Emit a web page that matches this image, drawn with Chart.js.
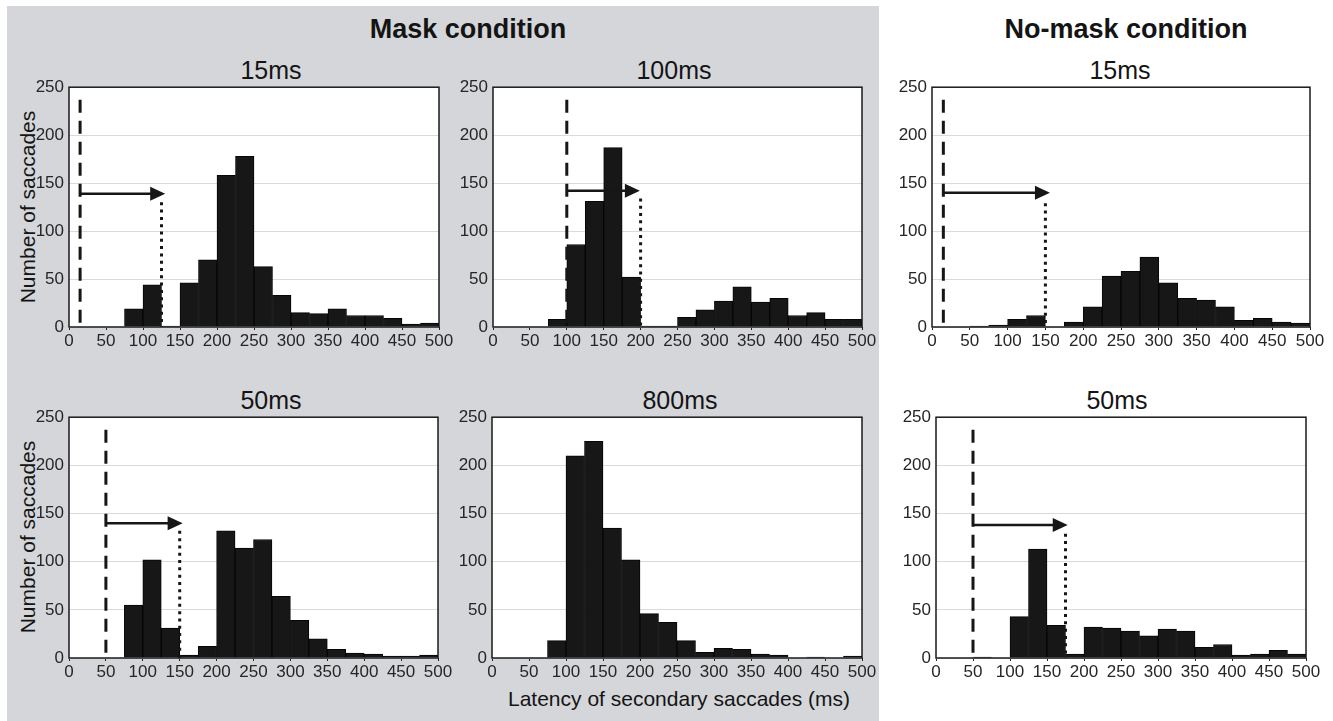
<!DOCTYPE html>
<html>
<head>
<meta charset="utf-8">
<script src="https://cdn.jsdelivr.net/npm/chart.js@4.4.1/dist/chart.umd.min.js"></script>
<style>
  body { margin: 0; background: #fff; }
  #page { position: relative; width: 1333px; height: 721px; overflow: hidden; font-family: 'Liberation Sans', Arial, sans-serif; }
  #maskBg { position: absolute; left: 7px; top: 6px; width: 872px; height: 715px; background: #d5d6d9; }
  canvas { position: absolute; }
  .txt { position: absolute; white-space: nowrap; line-height: 1; color: #141414; }
</style>
</head>
<body>
<div id="page">
  <div id="maskBg"></div>
</div>
<script>
// histogram bins (ms), 25 ms wide
const binStarts = [0, 25, 50, 75, 100, 125, 150, 175, 200, 225, 250, 275, 300, 325, 350, 375, 400, 425, 450, 475];
const binWidth = 25;
const xTicks = [0, 50, 100, 150, 200, 250, 300, 350, 400, 450, 500];
const yTicks = [0, 50, 100, 150, 200, 250];

// number of saccades per bin
const mask15   = [0, 0, 0, 19, 44, 1, 46, 70, 158, 178, 63, 33, 15, 14, 19, 12, 12, 9, 3, 4];
const mask100  = [0, 0, 0, 8, 86, 131, 187, 52, 1, 1, 10, 18, 27, 42, 26, 30, 12, 15, 8, 8];
const mask50   = [0, 0, 0, 55, 102, 31, 3, 12, 132, 114, 123, 64, 39, 20, 9, 5, 4, 2, 2, 3];
const mask800  = [0, 0, 0, 18, 210, 225, 135, 102, 46, 37, 18, 6, 10, 9, 4, 3, 0, 1, 0, 2];
const noMask15 = [0, 0, 1, 2, 8, 12, 0, 5, 21, 53, 58, 73, 46, 30, 28, 21, 7, 9, 5, 4];
const noMask50 = [0, 0, 1, 0, 43, 113, 34, 4, 32, 31, 28, 23, 30, 28, 11, 14, 3, 4, 8, 4];

// cue markers: mask onset (dashed), arrow, end of window (dotted)
const cueOnset    = { m15: 15, m100: 100, m50: 50, n15: 15, n50: 50 };
const cueArrowTip = { m15: 130, m100: 199, m50: 154, n15: 156, n50: 178 };
const cueArrowY   = { m15: 139, m100: 142, m50: 140, n15: 140, n50: 138 };
const cueDotX     = { m15: 125, m100: 200, m50: 150, n15: 150, n50: 175 };
const cueDotTop   = { m15: 130, m100: 134, m50: 132, n15: 129, n50: 129 };
const cueDashTop = 237;

const FONT = "'Liberation Sans', Arial, sans-serif";

const panels = [
  { id: 'm15',  data: mask15,   L: 69,  R: 439,  T: 87,  B: 327 },
  { id: 'm100', data: mask100,  L: 493, R: 862,  T: 87,  B: 327 },
  { id: 'n15',  data: noMask15, L: 932, R: 1310, T: 87,  B: 327 },
  { id: 'm50',  data: mask50,   L: 69,  R: 438,  T: 417, B: 658 },
  { id: 'm800', data: mask800,  L: 492, R: 862,  T: 417, B: 658 },
  { id: 'n50',  data: noMask50, L: 936, R: 1306, T: 417, B: 658 }
];

const texts = [
  { t: 'Mask condition',    cx: 468,  base: 39,  size: 27, bold: true },
  { t: 'No-mask condition', cx: 1126, base: 39,  size: 27, bold: true },
  { t: '15ms',  cx: 271,  base: 79,  size: 25 },
  { t: '100ms', cx: 674,  base: 79,  size: 25 },
  { t: '15ms',  cx: 1120, base: 79,  size: 25 },
  { t: '50ms',  cx: 271,  base: 409, size: 25 },
  { t: '800ms', cx: 680,  base: 409, size: 25 },
  { t: '50ms',  cx: 1117, base: 409, size: 25 },
  { t: 'Latency of secondary saccades (ms)', cx: 679, base: 706, size: 21 }
];

const page = document.getElementById('page');

texts.forEach(d => {
  const el = document.createElement('div');
  el.className = 'txt';
  el.textContent = d.t;
  el.style.fontSize = d.size + 'px';
  if (d.bold) el.style.fontWeight = 'bold';
  el.style.width = '500px';
  el.style.textAlign = 'center';
  el.style.left = (d.cx - 250) + 'px';
  el.style.top = (d.base - 0.8465 * d.size) + 'px';
  page.appendChild(el);
});

[207, 537].forEach(cy => {
  const el = document.createElement('div');
  el.className = 'txt';
  el.textContent = 'Number of saccades';
  el.style.fontSize = '21px';
  el.style.left = '27px';
  el.style.top = cy + 'px';
  el.style.transform = 'translate(-50%, -50%) rotate(-90deg)';
  page.appendChild(el);
});

function frame(id) {
  return {
    id: 'frame',
    beforeDraw(chart) {
      const { ctx, chartArea: a } = chart;
      ctx.save();
      ctx.fillStyle = '#ffffff';
      ctx.fillRect(a.left, a.top, a.width, a.height);
      ctx.restore();
    },
    afterDatasetsDraw(chart) {
      if (cueOnset[id] === undefined) return;
      const ctx = chart.ctx;
      const x = chart.scales.x, y = chart.scales.y;
      const x0 = x.getPixelForValue(cueOnset[id]);
      const xTip = x.getPixelForValue(cueArrowTip[id]);
      const xDot = x.getPixelForValue(cueDotX[id]);
      const yA = y.getPixelForValue(cueArrowY[id]);
      const y0 = y.getPixelForValue(0);
      ctx.save();
      ctx.strokeStyle = '#161616';
      ctx.fillStyle = '#161616';
      // dashed onset line
      ctx.lineWidth = 3;
      ctx.setLineDash([13, 8]);
      ctx.beginPath();
      ctx.moveTo(x0, y.getPixelForValue(cueDashTop));
      ctx.lineTo(x0, y0);
      ctx.stroke();
      // dotted line
      ctx.setLineDash([3, 4.3]);
      ctx.beginPath();
      ctx.moveTo(xDot, y.getPixelForValue(cueDotTop[id]));
      ctx.lineTo(xDot, y0);
      ctx.stroke();
      // arrow
      ctx.setLineDash([]);
      ctx.lineWidth = 2.5;
      ctx.beginPath();
      ctx.moveTo(x0, yA);
      ctx.lineTo(xTip - 14, yA);
      ctx.stroke();
      ctx.beginPath();
      ctx.moveTo(xTip, yA);
      ctx.lineTo(xTip - 15, yA - 7);
      ctx.lineTo(xTip - 15, yA + 7);
      ctx.closePath();
      ctx.fill();
      ctx.restore();
    },
    afterDraw(chart) {
      const { ctx, chartArea: a } = chart;
      ctx.save();
      ctx.strokeStyle = '#1a1a1a';
      ctx.lineWidth = 1.5;
      ctx.strokeRect(a.left, a.top, a.width, a.height);
      ctx.restore();
    }
  };
}

panels.forEach(p => {
  const canvas = document.createElement('canvas');
  const w = p.R - p.L + 75;
  const h = p.B - p.T + 45;
  canvas.width = w;
  canvas.height = h;
  canvas.style.width = w + 'px';
  canvas.style.height = h + 'px';
  canvas.style.left = (p.L - 50) + 'px';
  canvas.style.top = (p.T - 15) + 'px';
  page.appendChild(canvas);

  new Chart(canvas.getContext('2d'), {
    type: 'bar',
    data: {
      datasets: [{
        data: binStarts.map((s, i) => ({ x: s + binWidth / 2, y: p.data[i] })),
        backgroundColor: '#171717',
        borderColor: '#060606',
        borderWidth: 1,
        barPercentage: 1,
        categoryPercentage: 1
      }]
    },
    options: {
      responsive: false,
      animation: false,
      devicePixelRatio: 1,
      layout: { padding: { left: 0, top: 15, right: 25, bottom: 0 } },
      plugins: { legend: { display: false }, tooltip: { enabled: false } },
      scales: {
        x: {
          type: 'linear',
          min: 0,
          max: 500,
          offset: false,
          border: { display: false },
          grid: { offset: false, drawOnChartArea: false, drawTicks: true, tickLength: 3, color: '#222' },
          ticks: { autoSkip: false, maxRotation: 0, padding: 1, color: '#262626', font: { family: FONT, size: 17 } },
          afterBuildTicks(s) { s.ticks = xTicks.map(v => ({ value: v })); },
          afterFit(s) { s.height = 30; }
        },
        y: {
          min: 0,
          max: 250,
          border: { display: false },
          grid: { color: '#dadada', lineWidth: 1, drawTicks: false },
          ticks: { padding: 5, color: '#262626', font: { family: FONT, size: 17 } },
          afterBuildTicks(s) { s.ticks = yTicks.map(v => ({ value: v })); },
          afterFit(s) { s.width = 50; }
        }
      }
    },
    plugins: [frame(p.id)]
  });
});
</script>
</body>
</html>
